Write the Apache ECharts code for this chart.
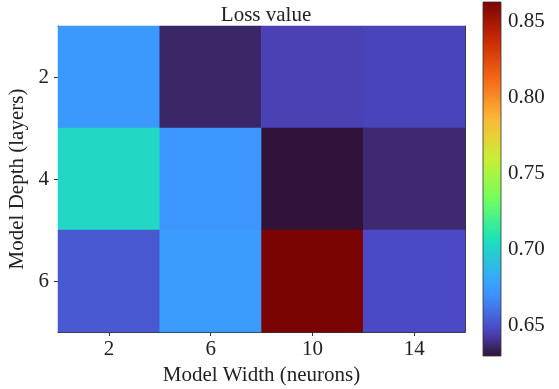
<!DOCTYPE html>
<html>
<head>
<meta charset="utf-8">
<script src="https://cdn.jsdelivr.net/npm/echarts@6/dist/echarts.min.js"></script>
<style>html,body{margin:0;padding:0;background:#fff}#c{width:559px;height:389px}</style>
</head>
<body>
<div id="c"></div>
<script>
// ---- data ----
const widths = ['2', '6', '10', '14'];          // x categories (neurons)
const depths = ['2', '4', '6'];                 // y categories (layers)
const lossDepth2 = [0.673, 0.636, 0.645, 0.646];
const lossDepth4 = [0.702, 0.672, 0.6296, 0.637];
const lossDepth6 = [0.653, 0.675, 0.863, 0.648];
const cbTicks = [0.65, 0.70, 0.75, 0.80, 0.85];
const titleText = 'Loss value';
const xName = 'Model Width (neurons)';
const yName = 'Model Depth (layers)';

const rows = [lossDepth2, lossDepth4, lossDepth6];
const cells = [];
rows.forEach((r, yi) => r.forEach((v, xi) => cells.push([xi, yi, v])));
const all = rows.flat();
const vmin = Math.min(...all), vmax = Math.max(...all);

// ---- turbo colormap (style) ----
function turboPoly(t) {
  const r = 0.13572138 + t*(4.61539260 + t*(-42.66032258 + t*(132.13108234 + t*(-152.94239396 + t*59.28637943))));
  const g = 0.09140261 + t*(2.19418839 + t*(4.84296658 + t*(-14.18503333 + t*(4.27729857 + t*2.82956604))));
  const b = 0.10667330 + t*(12.64194608 + t*(-60.58204836 + t*(110.36276771 + t*(-89.90310912 + t*27.34824973))));
  const c = x => Math.max(0, Math.min(255, Math.round(x * 255)));
  return 'rgb(' + c(r) + ',' + c(g) + ',' + c(b) + ')';
}
const turboHex = ['#30123b', '#4662d7', '#36aaf9', '#1ae4b6', '#72fe5e', '#c8ef34', '#faba39', '#f66b19', '#cb2a04', '#7a0403'];
const stops = [];
stops.push({offset: 0, color: turboHex[0]});
[0.02, 0.04, 0.06, 0.08].forEach(t => stops.push({offset: t, color: turboPoly(t)}));
turboHex.slice(1).forEach((c, i) => {
  if ((i + 1) === 2) stops.push({offset: 0.17, color: '#3e90fe'});
  stops.push({offset: (i + 1) / 9, color: c});
});
const colorList = [];
for (let i = 0; i <= 100; i++) {
  const t = i / 100;
  let k = 0;
  while (k < stops.length - 2 && stops[k + 1].offset < t) k++;
  const a = stops[k], b = stops[k + 1];
  const f = (t - a.offset) / (b.offset - a.offset);
  const pa = echarts.color.parse(a.color), pb = echarts.color.parse(b.color);
  colorList.push('rgb(' + [0,1,2].map(j => Math.round(pa[j] + (pb[j] - pa[j]) * Math.max(0, Math.min(1, f)))).join(',') + ')');
}

const FONT = 'Liberation Serif';
const FS = 21;
const TXT = '#222';
const LINE = '#333';

const chart = echarts.init(document.getElementById('c'), null, {renderer: 'canvas'});
chart.setOption({
  animation: false,
  backgroundColor: '#fff',
  textStyle: {fontFamily: FONT, color: TXT},
  title: {
    text: titleText, left: 261, top: 0, textAlign: 'center',
    textStyle: {fontFamily: FONT, fontSize: FS, fontWeight: 'normal', color: TXT}
  },
  grid: [
    {left: 58, top: 26, width: 407, height: 306, outerBoundsMode: 'none', containLabel: false},
    {left: 483, top: 2, width: 18, height: 354, outerBoundsMode: 'none', containLabel: false}
  ],
  xAxis: [
    {
      gridIndex: 0, type: 'category', data: widths, position: 'bottom',
      name: xName, nameLocation: 'middle', nameGap: 32,
      nameTextStyle: {fontFamily: FONT, fontSize: FS, color: TXT},
      axisLine: {show: true, lineStyle: {color: LINE, width: 1}},
      axisTick: {show: true, alignWithLabel: true, length: 4, lineStyle: {color: LINE}},
      axisLabel: {fontFamily: FONT, fontSize: FS, color: TXT, margin: 7},
      splitLine: {show: false}
    },
    {
      gridIndex: 0, type: 'category', data: widths, position: 'top',
      axisLine: {show: true, lineStyle: {color: LINE, width: 1}},
      axisTick: {show: false}, axisLabel: {show: false}, splitLine: {show: false}
    },
    {
      gridIndex: 1, type: 'value', min: 0, max: 1, show: false
    }
  ],
  yAxis: [
    {
      gridIndex: 0, type: 'category', data: depths, inverse: true, position: 'left',
      name: yName, nameLocation: 'middle', nameGap: 25, nameRotate: 90,
      nameTextStyle: {fontFamily: FONT, fontSize: FS, color: TXT},
      axisLine: {show: true, lineStyle: {color: LINE, width: 1}},
      axisTick: {show: true, alignWithLabel: true, length: 4, lineStyle: {color: LINE}},
      axisLabel: {fontFamily: FONT, fontSize: FS, color: TXT, margin: 9},
      splitLine: {show: false}
    },
    {
      gridIndex: 0, type: 'category', data: depths, inverse: true, position: 'right',
      axisLine: {show: true, lineStyle: {color: LINE, width: 1}},
      axisTick: {show: false}, axisLabel: {show: false}, splitLine: {show: false}
    },
    {
      gridIndex: 1, type: 'value', min: vmin, max: vmax, position: 'right',
      axisLine: {show: false},
      axisTick: {show: true, inside: false, length: 4, customValues: cbTicks, lineStyle: {color: LINE}},
      axisLabel: {show: true, customValues: cbTicks, fontFamily: FONT, fontSize: FS, color: TXT, margin: 7,
        formatter: v => Number(v).toFixed(2)},
      splitLine: {show: false}
    }
  ],
  visualMap: {
    show: false, type: 'continuous', min: vmin, max: vmax, seriesIndex: 0,
    dimension: 2, inRange: {color: colorList}
  },
  series: [
    {
      type: 'heatmap', xAxisIndex: 0, yAxisIndex: 0, data: cells,
      itemStyle: {borderWidth: 0}, emphasis: {disabled: true}, z: 1
    },
    {
      type: 'custom', xAxisIndex: 2, yAxisIndex: 2, data: [[0, vmin, vmax]], z: 3,
      renderItem: function (params, api) {
        const p1 = api.coord([0, api.value(2)]);
        const p2 = api.coord([1, api.value(1)]);
        return {
          type: 'rect',
          shape: {x: p1[0], y: p1[1], width: p2[0] - p1[0], height: p2[1] - p1[1]},
          style: {
            fill: new echarts.graphic.LinearGradient(0, 1, 0, 0, stops),
            stroke: LINE, lineWidth: 0.8
          }
        };
      }
    }
  ]
});
</script>
</body>
</html>
